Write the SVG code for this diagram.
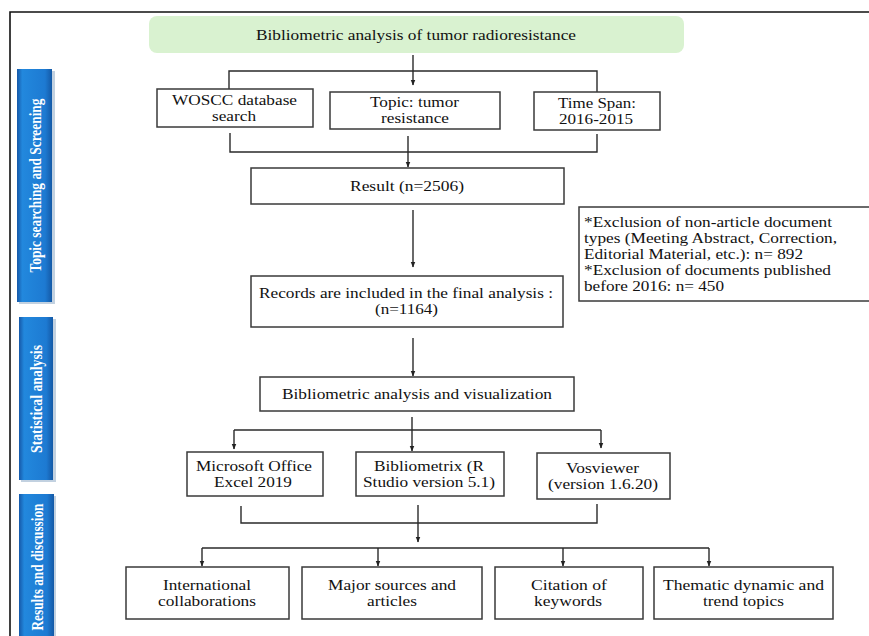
<svg xmlns="http://www.w3.org/2000/svg" width="869" height="636" viewBox="0 0 869 636">
<defs>
<linearGradient id="blue" x1="0" y1="0" x2="1" y2="0">
<stop offset="0" stop-color="#1658a8"/>
<stop offset="0.15" stop-color="#2288dd"/>
<stop offset="0.8" stop-color="#1d7ad2"/>
<stop offset="1" stop-color="#1459a6"/>
</linearGradient>
<marker id="arr" viewBox="0 0 10 10" refX="9" refY="5" markerWidth="6" markerHeight="6" orient="auto" markerUnits="userSpaceOnUse">
<path d="M0,1 L10,5 L0,9 z" fill="#222"/>
</marker>
<style>
.box{fill:#fff;stroke:#3a3a3a;stroke-width:1.5}
.t{font-family:"Liberation Serif","Times New Roman",serif;font-size:15px;fill:#111;text-anchor:middle}
.l{font-family:"Liberation Serif","Times New Roman",serif;font-size:15px;fill:#111}
.side{font-family:"Liberation Serif","Times New Roman",serif;font-size:17px;font-weight:bold;fill:#fff;text-anchor:middle}
.c{fill:none;stroke:#2a2a2a;stroke-width:1.4}
.bar{fill:url(#blue)}
.sh{fill:#9ab3cc;opacity:0.6}
</style>
</defs>
<rect width="869" height="636" fill="#fff"/>
<g id="frame">
<path d="M10,636 L10,12 L869,12" fill="none" stroke="#111" stroke-width="1.6"/>
</g>
<g id="side1">
<rect class="sh" x="19" y="71" width="36" height="233"/>
<rect class="bar" x="17" y="69" width="35" height="233"/>
<text class="side" transform="translate(41,185.5) rotate(-90)" textLength="174" lengthAdjust="spacingAndGlyphs">Topic searching and Screening</text>
</g>
<g id="side2">
<rect class="sh" x="21" y="319" width="35" height="163"/>
<rect class="bar" x="19" y="317" width="34" height="163"/>
<text class="side" transform="translate(42,399) rotate(-90)" textLength="108" lengthAdjust="spacingAndGlyphs">Statistical  analysis</text>
</g>
<g id="side3">
<rect class="sh" x="21" y="496" width="35" height="140"/>
<rect class="bar" x="19" y="494" width="35" height="142"/>
<text class="side" transform="translate(43,567) rotate(-90)" textLength="127" lengthAdjust="spacingAndGlyphs">Results and discussion</text>
</g>
<g id="connectors">
<line class="c" x1="413" y1="55" x2="413" y2="85" marker-end="url(#arr)"/>
<polyline class="c" points="229,89 229,71 597,71 597,92"/>
<polyline class="c" points="230,133 230,152 597,152 597,134"/>
<line class="c" x1="408" y1="136" x2="408" y2="167" marker-end="url(#arr)"/>
<line class="c" x1="413" y1="210" x2="413" y2="267" marker-end="url(#arr)"/>
<line class="c" x1="413" y1="338" x2="413" y2="376" marker-end="url(#arr)"/>
<line class="c" x1="412" y1="417" x2="412" y2="451" marker-end="url(#arr)"/>
<line class="c" x1="234" y1="430" x2="601" y2="430"/>
<line class="c" x1="234" y1="430" x2="234" y2="449" marker-end="url(#arr)"/>
<line class="c" x1="601" y1="430" x2="601" y2="448" marker-end="url(#arr)"/>
<polyline class="c" points="241,506 241,523 597,523 597,504"/>
<line class="c" x1="418" y1="505" x2="418" y2="542" marker-end="url(#arr)"/>
<line class="c" x1="202" y1="548" x2="709" y2="548"/>
<line class="c" x1="202" y1="548" x2="202" y2="566" marker-end="url(#arr)"/>
<line class="c" x1="378" y1="548" x2="378" y2="566" marker-end="url(#arr)"/>
<line class="c" x1="563" y1="548" x2="563" y2="566" marker-end="url(#arr)"/>
<line class="c" x1="709" y1="548" x2="709" y2="566" marker-end="url(#arr)"/>
</g>
<g id="title">
<rect x="149" y="16" width="535" height="37" rx="8" fill="#d9f2d0"/>
<text class="t" x="416" y="40" textLength="320" lengthAdjust="spacingAndGlyphs">Bibliometric analysis of tumor radioresistance</text>
</g>
<g id="woscc">
<rect class="box" x="157" y="89" width="156" height="38"/>
<text class="t" x="234.5" y="105" textLength="125" lengthAdjust="spacingAndGlyphs">WOSCC database</text>
<text class="t" x="234" y="121" textLength="44" lengthAdjust="spacingAndGlyphs">search</text>
</g>
<g id="topic">
<rect class="box" x="330" y="92" width="170" height="37"/>
<text class="t" x="414.5" y="107" textLength="89" lengthAdjust="spacingAndGlyphs">Topic: tumor</text>
<text class="t" x="415" y="123" textLength="68" lengthAdjust="spacingAndGlyphs">resistance</text>
</g>
<g id="timespan">
<rect class="box" x="534" y="92" width="126" height="38"/>
<text class="t" x="597" y="108" textLength="78" lengthAdjust="spacingAndGlyphs">Time Span:</text>
<text class="t" x="596" y="124" textLength="74" lengthAdjust="spacingAndGlyphs">2016-2015</text>
</g>
<g id="result">
<rect class="box" x="251" y="168" width="313" height="36"/>
<text class="t" x="407" y="191" textLength="114" lengthAdjust="spacingAndGlyphs">Result (n=2506)</text>
</g>
<g id="exclusion">
<rect class="box" x="579" y="207" width="292" height="94"/>
<text class="l" x="584" y="227" textLength="248" lengthAdjust="spacingAndGlyphs">*Exclusion of non-article document</text>
<text class="l" x="584" y="243" textLength="253" lengthAdjust="spacingAndGlyphs">types (Meeting Abstract, Correction,</text>
<text class="l" x="584" y="259" textLength="219" lengthAdjust="spacingAndGlyphs">Editorial Material, etc.): n= 892</text>
<text class="l" x="584" y="275" textLength="247" lengthAdjust="spacingAndGlyphs">*Exclusion of documents published</text>
<text class="l" x="584" y="291" textLength="140" lengthAdjust="spacingAndGlyphs">before 2016: n= 450</text>
</g>
<g id="records">
<rect class="box" x="251" y="276" width="312" height="51"/>
<text class="t" x="406" y="298" textLength="294" lengthAdjust="spacingAndGlyphs">Records are included in the final analysis :</text>
<text class="t" x="406.5" y="314" textLength="63" lengthAdjust="spacingAndGlyphs">(n=1164)</text>
</g>
<g id="biblio">
<rect class="box" x="260" y="377" width="314" height="34"/>
<text class="t" x="417" y="399" textLength="270" lengthAdjust="spacingAndGlyphs">Bibliometric analysis and visualization</text>
</g>
<g id="excel">
<rect class="box" x="187" y="452" width="136" height="44"/>
<text class="t" x="254" y="471" textLength="116" lengthAdjust="spacingAndGlyphs">Microsoft Office</text>
<text class="t" x="253" y="487" textLength="78" lengthAdjust="spacingAndGlyphs">Excel 2019</text>
</g>
<g id="bibliometrix">
<rect class="box" x="356" y="452" width="148" height="44"/>
<text class="t" x="429" y="471" textLength="110" lengthAdjust="spacingAndGlyphs">Bibliometrix (R</text>
<text class="t" x="429" y="487" textLength="132" lengthAdjust="spacingAndGlyphs">Studio version 5.1)</text>
</g>
<g id="vosviewer">
<rect class="box" x="537" y="453" width="133" height="46"/>
<text class="t" x="602.5" y="473" textLength="73" lengthAdjust="spacingAndGlyphs">Vosviewer</text>
<text class="t" x="603" y="489" textLength="110" lengthAdjust="spacingAndGlyphs">(version 1.6.20)</text>
</g>
<g id="intl">
<rect class="box" x="126" y="567" width="163" height="52"/>
<text class="t" x="207" y="590" textLength="88" lengthAdjust="spacingAndGlyphs">International</text>
<text class="t" x="207" y="606" textLength="98" lengthAdjust="spacingAndGlyphs">collaborations</text>
</g>
<g id="major">
<rect class="box" x="302" y="567" width="180" height="52"/>
<text class="t" x="392" y="590" textLength="128" lengthAdjust="spacingAndGlyphs">Major sources and</text>
<text class="t" x="392" y="606" textLength="50" lengthAdjust="spacingAndGlyphs">articles</text>
</g>
<g id="citation">
<rect class="box" x="495" y="567" width="148" height="52"/>
<text class="t" x="569" y="590" textLength="76" lengthAdjust="spacingAndGlyphs">Citation of</text>
<text class="t" x="568" y="606" textLength="68" lengthAdjust="spacingAndGlyphs">keywords</text>
</g>
<g id="thematic">
<rect class="box" x="654" y="567" width="179" height="52"/>
<text class="t" x="743.5" y="590" textLength="161" lengthAdjust="spacingAndGlyphs">Thematic dynamic  and</text>
<text class="t" x="743.5" y="606" textLength="81" lengthAdjust="spacingAndGlyphs">trend topics</text>
</g>
</svg>
